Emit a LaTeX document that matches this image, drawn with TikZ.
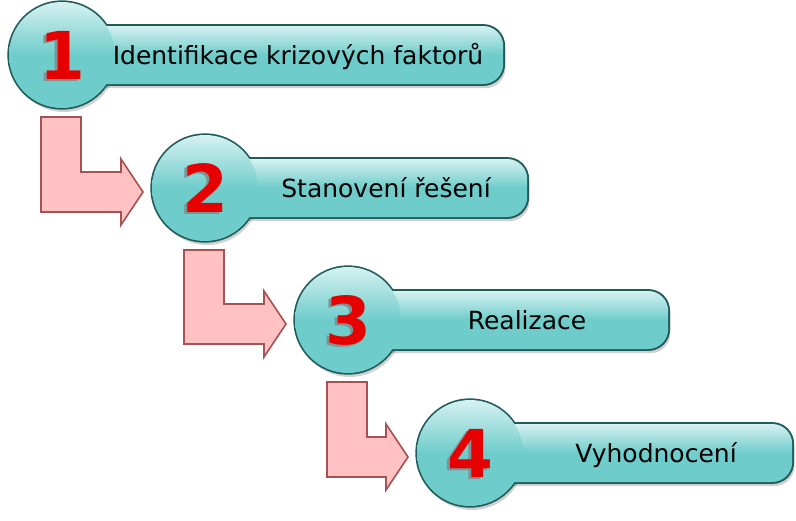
\documentclass[tikz,border=0pt]{standalone}
\usepackage{fontspec}
\setmainfont{DejaVu Sans}
\usepackage{xcolor}
\usepackage{tikz}
\usetikzlibrary{backgrounds}

\definecolor{stepteal}{HTML}{6ECDCB}
\definecolor{steplight}{HTML}{D6F1F1}
\definecolor{stepedge}{HTML}{1F5C5A}
\definecolor{arrowpink}{HTML}{FFC1C1}
\definecolor{arrowedge}{HTML}{A65252}
\definecolor{digitred}{HTML}{E60000}
\definecolor{digitgray}{HTML}{7E9494}

\begin{document}
\begin{tikzpicture}[x=1pt, y=-1pt,
  stepdisc/.style={circle, minimum size=106pt, inner sep=0pt,
    top color=steplight, bottom color=stepteal, middle color=stepteal},
  stepbar/.style={rectangle, rounded corners=20pt, minimum height=58pt,
    inner sep=0pt, anchor=west,
    top color=steplight, bottom color=stepteal, middle color=stepteal},
  edgeline/.style={draw=stepedge, line width=3.4pt},
  shadowfill/.style={fill=black, opacity=0.18},
  steptext/.style={anchor=base, inner sep=0pt, font=\fontsize{25}{30}\selectfont},
  digit/.style={text=digitred, inner sep=0pt, font=\bfseries\fontsize{66}{72}\selectfont},
  digitshadow/.style={digit, text=digitgray},
  bentarrow/.style={fill=arrowpink, draw=arrowedge, line width=1.6pt, line join=miter}]
  \useasboundingbox (0,0) rectangle (796,520);

  \foreach \n/\cx/\cy/\xr/\tx/\txt in {
      1/62/55/503/298/Identifikace krizových faktorů,
      2/205/188/527/386/Stanovení řešení,
      3/348/320/668/527/Realizace,
      4/470/453/792/656/Vyhodnocení} {
    \node[stepbar, minimum width={\xr-\cx}] (b\n) at (\cx,\cy) {};
    \node[stepdisc] (s\n) at (\cx,\cy) {};
    \begin{scope}[on background layer]
      \fill[shadowfill] ([shift={(2,4)}]s\n.center) circle (53);
      \fill[shadowfill, rounded corners=20pt] ([shift={(2,4)}]b\n.south west) rectangle ([shift={(2,4)}]b\n.north east);
      \draw[edgeline] (s\n.center) circle (53);
      \draw[edgeline, rounded corners=20pt] (b\n.south west) rectangle (b\n.north east);
    \end{scope}
    \node[digitshadow] (g\n) at ([shift={(-3,2)}]s\n.center) {\n};
    \node[digit] (d\n) at (s\n.center) {\n};
    \node[steptext] (t\n) at (\tx,\cy+9) {\txt};
  }

  \foreach \i/\j in {1/2, 2/3, 3/4} {
    \draw[bentarrow] ([shift={(-21,62)}]s\i.center) -- ([shift={(19,62)}]s\i.center)
      |- ([shift={(-84,-16)}]s\j.center) -- ++(0,-13) -- ++(22,33) -- ++(-22,33)
      -- ++(0,-13) -| ([shift={(-21,62)}]s\i.center) -- cycle;
  }
\end{tikzpicture}
\end{document}
